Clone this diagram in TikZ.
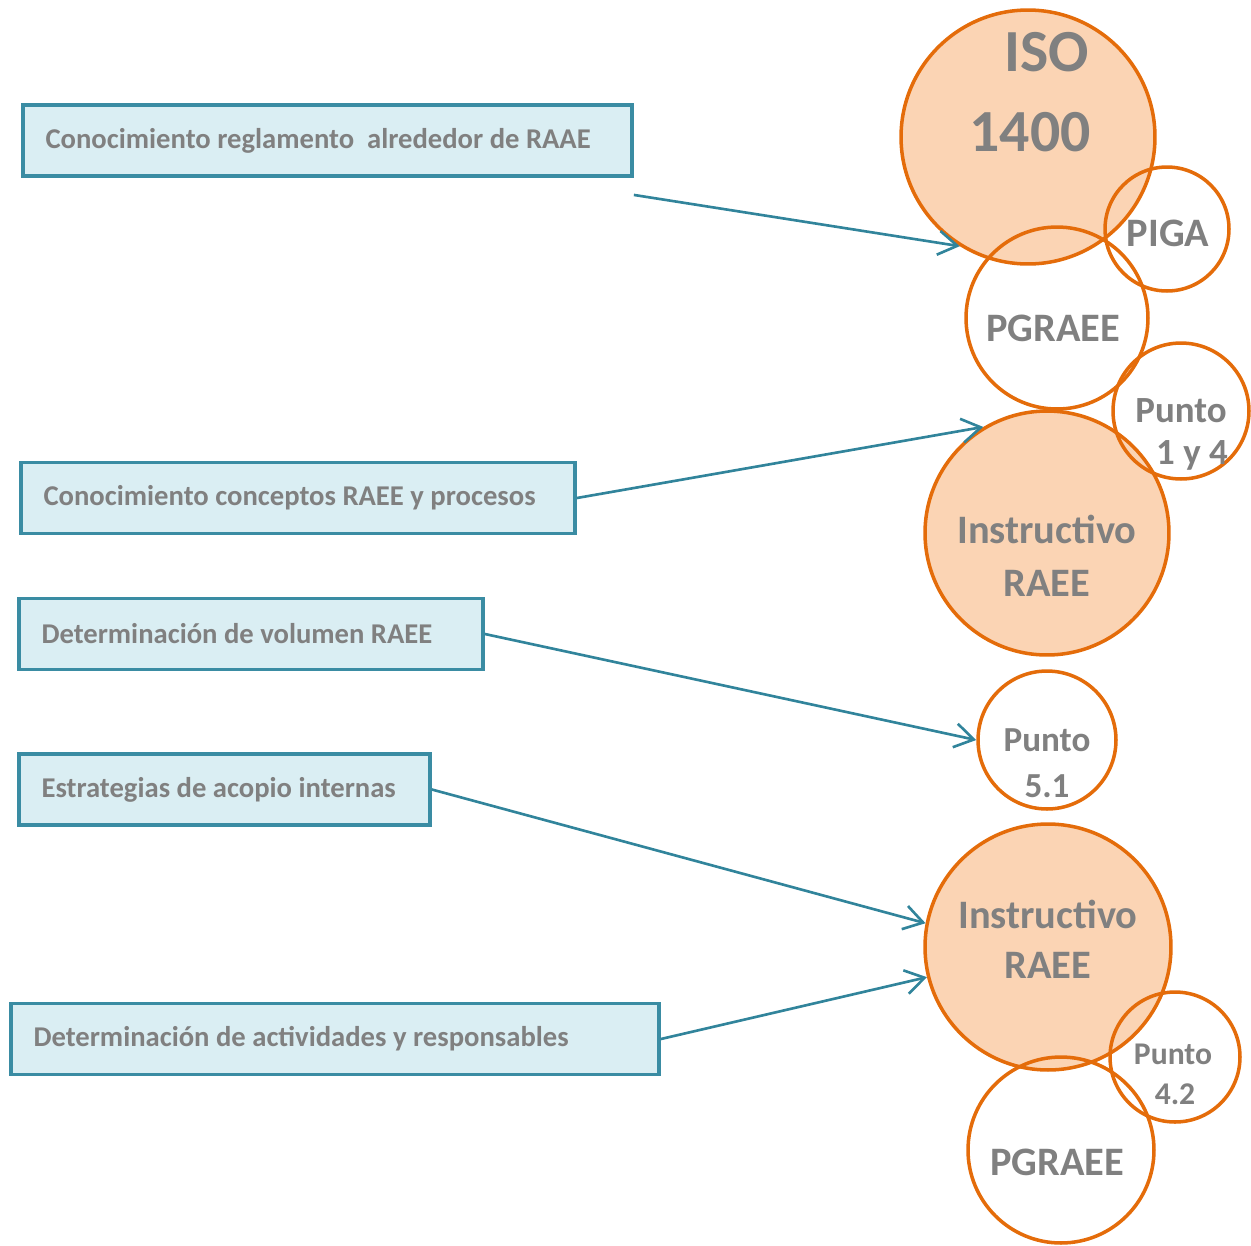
\documentclass[tikz,border=0pt]{standalone}
\usepackage{fontspec}
\setmainfont{Carlito}
\usetikzlibrary{arrows.meta, positioning, calc}

\definecolor{boxblue}{HTML}{DAEEF3}
\definecolor{boxline}{HTML}{3A8CA3}
\definecolor{arrowteal}{HTML}{31849B}
\definecolor{ringorange}{HTML}{E46C0A}
\definecolor{peach}{HTML}{FBD4B4}
\definecolor{txtgrey}{HTML}{808080}

\begin{document}
\begin{tikzpicture}[
    x=0.02cm, y=-0.02cm,
    box/.style={rectangle, draw=boxline, fill=boxblue, line width=2.2pt, minimum height=1.42cm, inner xsep=0.45cm, align=flush left, text=txtgrey, font=\fontsize{16.3}{19}\selectfont\bfseries},
    ring/.style={circle, draw=ringorange, line width=2pt, inner sep=0pt},
    filled/.style={ring, fill=peach},
    tag/.style={anchor=base, inner sep=0pt, text=txtgrey, font=\fontsize{#1}{#1}\selectfont\bfseries},
    arrow/.style={-{Straight Barb[length=0.38cm, width=0.48cm]}, draw=arrowteal, line width=1.5pt}
]

    \useasboundingbox (0,0) rectangle (1251,1245);

    % --- Left Side Boxes ---
    \node[box, text width=11.28cm] (reg) at (327.5,140.5) {Conocimiento reglamento~ alrededor de RAAE};
    \node[box, text width=10.18cm] (conc) at (298,498) {Conocimiento conceptos RAEE y procesos};
    \node[box, text width=8.38cm] (vol) at (251,634) {Determinación de volumen RAEE};
    \node[box, text width=7.32cm] (acop) at (224.5,789.5) {Estrategias de acopio internas};
    \node[box, text width=12.06cm] (activ) at (335,1039) {Determinación de actividades y responsables};

    % --- Right Side Circles ---

    % Filled circles first
    \node[filled, minimum size=5.08cm] (iso) at (1028,137) {};
    \node[filled, minimum size=4.88cm] (instrA) at (1047,533) {};
    \node[filled, minimum size=4.92cm] (instrB) at (1048,947) {};

    % Open circles on top
    \node[ring, minimum size=2.48cm] (piga) at (1167,229) {};
    \node[ring, minimum size=3.64cm] (pgraeeA) at (1057,318) {};
    \node[ring, minimum size=2.72cm] (puntoA) at (1181,411) {};
    \node[ring, minimum size=2.76cm] (puntoB) at (1047,740) {};
    \node[ring, minimum size=2.6cm] (puntoC) at (1175,1057) {};
    \node[ring, minimum size=3.72cm] (pgraeeB) at (1061,1150) {};

    % Circle texts
    \node[tag=34] (iso-a) at (1047,71) {ISO};
    \node[tag=34] (iso-b) at (1030,151) {1400};
    \node[tag=23] (piga-t) at (1168,246) {PIGA};
    \node[tag=23] (pgraeeA-t) at (1053,341) {PGRAEE};
    \node[tag=21] (puntoA-a) at (1181,422) {Punto};
    \node[tag=21] (puntoA-b) at (1192,464) {1 y 4};
    \node[tag=23] (instrA-a) at (1047,543) {Instructivo};
    \node[tag=23] (instrA-b) at (1047,596) {RAEE};
    \node[tag=20] (puntoB-a) at (1047,751) {Punto};
    \node[tag=20] (puntoB-b) at (1047,797) {5.1};
    \node[tag=23] (instrB-a) at (1048,928) {Instructivo};
    \node[tag=23] (instrB-b) at (1048,978) {RAEE};
    \node[tag=18] (puntoC-a) at (1173,1064) {Punto};
    \node[tag=18] (puntoC-b) at (1175,1104) {4.2};
    \node[tag=23] (pgraeeB-t) at (1057,1175) {PGRAEE};

    % --- Arrows ---
    \draw[arrow] ($(reg.south east)+(0,17)$) -- (iso.238);
    \draw[arrow] (conc.east) -- (instrA.121);
    \draw[arrow] (vol.east) -- (puntoB.west);
    \draw[arrow] (acop.east) -- (instrB.169);
    \draw[arrow] (activ.east) -- (instrB.194);

\end{tikzpicture}
\end{document}
